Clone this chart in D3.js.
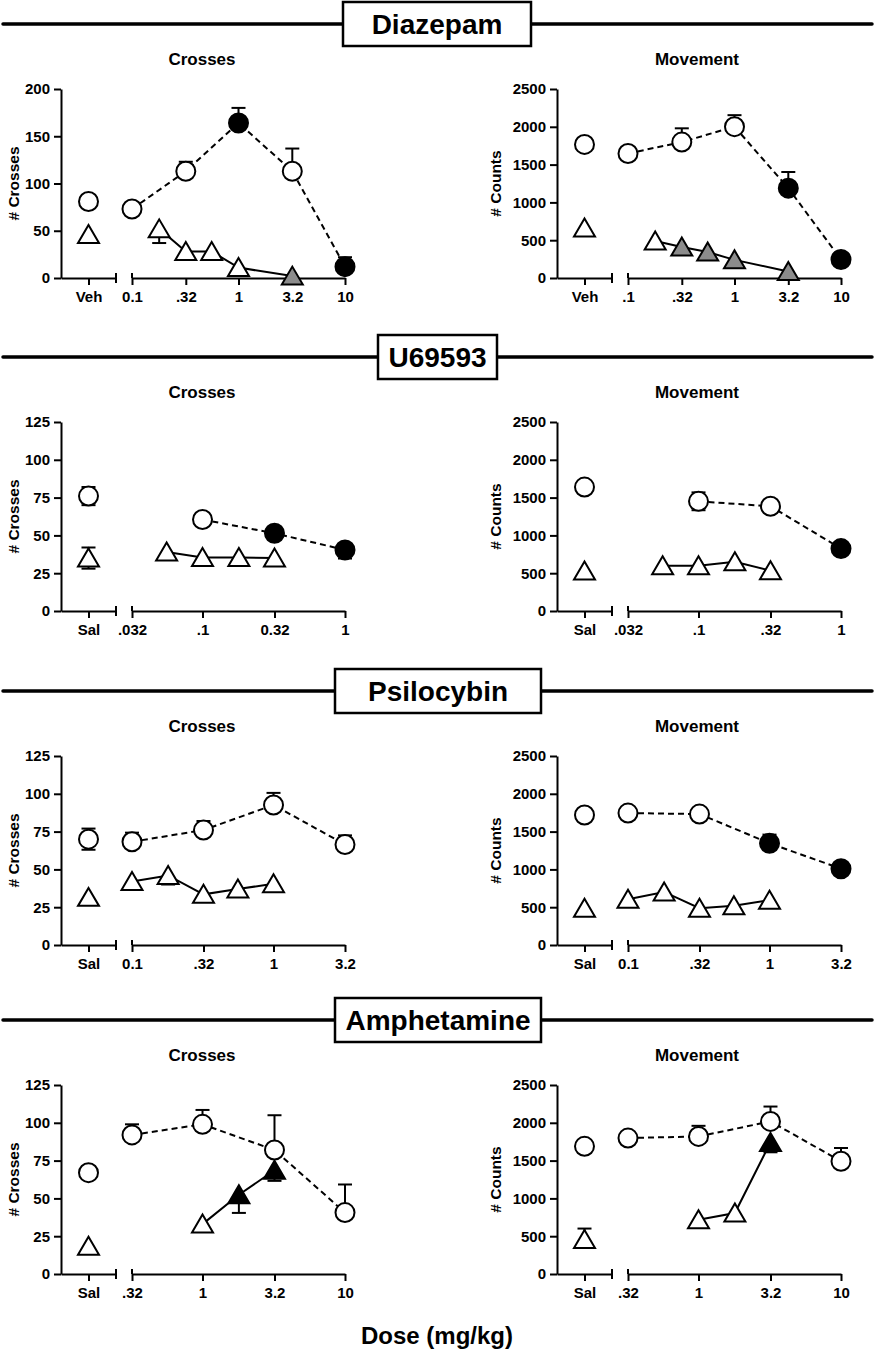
<!DOCTYPE html>
<html>
<head>
<meta charset="utf-8">
<script src="https://cdn.jsdelivr.net/npm/d3@7"></script>
<style>
  body { margin: 0; background: #fff; }
  svg { display: block; }
</style>
</head>
<body>
<div id="chart"></div>
<script>
// Figure-wide labels
const drugs = ['Diazepam', 'U69593', 'Psilocybin', 'Amphetamine'];
const controlLabels = ['Veh', 'Sal', 'Sal', 'Sal'];
const doseDomains = [[0.1, 10], [0.032, 1], [0.1, 3.2], [0.32, 10]];
const doseTicks = [[0.1, 0.32, 1, 3.2, 10], [0.032, 0.1, 0.32, 1], [0.1, 0.32, 1, 3.2], [0.32, 1, 3.2, 10]];
const crossTickLabels = [['0.1', '.32', '1', '3.2', '10'], ['.032', '.1', '0.32', '1'], ['0.1', '.32', '1', '3.2'], ['.32', '1', '3.2', '10']];
const countTickLabels = [['.1', '.32', '1', '3.2', '10'], ['.032', '.1', '.32', '1'], ['0.1', '.32', '1', '3.2'], ['.32', '1', '3.2', '10']];
const crossMax = [200, 125, 125, 125];
const crossStep = [50, 25, 25, 25];
const countMax = 2500;
const countStep = 500;

// control points: [circle, triangle] as [mean, +err, -err]
// dose points: [dose, mean, +err, -err, fill]  fill: o = open, f = black, g = gray

// Diazepam
const dzpCrossCtrl = [[81, 0, 0], [46, 0, 0]];
const dzpCrossCirc = [[0.1, 73, 0, 0, 'o'], [0.32, 113, 10, 0, 'o'], [1, 164, 16, 0, 'f'], [3.2, 113, 24, 0, 'o'], [10, 12, 10, 0, 'f']];
const dzpCrossTri = [[0.18, 52, 0, 15, 'o'], [0.32, 28, 0, 0, 'o'], [0.56, 28, 0, 0, 'o'], [1, 11, 0, 0, 'o'], [3.2, 2, 0, 0, 'g']];
const dzpCountCtrl = [[1767, 0, 0], [660, 0, 0]];
const dzpCountCirc = [[0.1, 1647, 0, 0, 'o'], [0.32, 1798, 182, 0, 'o'], [1, 2002, 152, 0, 'o'], [3.2, 1188, 214, 0, 'f'], [10, 245, 0, 0, 'f']];
const dzpCountTri = [[0.18, 490, 0, 0, 'o'], [0.32, 409, 0, 0, 'g'], [0.56, 343, 0, 0, 'g'], [1, 240, 0, 0, 'g'], [3.2, 85, 0, 0, 'g']];

// U69593
const u69CrossCtrl = [[76, 6, 6], [35, 7, 7]];
const u69CrossCirc = [[0.1, 60.5, 0, 0, 'o'], [0.32, 51.4, 0, 0, 'f'], [1, 40.4, 0, 5.7, 'f']];
const u69CrossTri = [[0.056, 39, 0, 0, 'o'], [0.1, 35.4, 0, 0, 'o'], [0.18, 35.4, 0, 0, 'o'], [0.32, 35, 0, 0, 'o']];
const u69CountCtrl = [[1639, 0, 0], [529, 0, 0]];
const u69CountCirc = [[0.1, 1451, 118, 118, 'o'], [0.32, 1385, 0, 0, 'o'], [1, 826, 0, 0, 'f']];
const u69CountTri = [[0.056, 599, 0, 0, 'o'], [0.1, 599, 0, 0, 'o'], [0.18, 651, 0, 0, 'o'], [0.32, 533, 0, 0, 'o']];

// Psilocybin
const psiCrossCtrl = [[70, 7, 7], [31.5, 0, 0]];
const psiCrossCirc = [[0.1, 68.3, 6, 0, 'o'], [0.32, 76, 6, 0, 'o'], [1, 92.6, 8, 0, 'o'], [3.2, 66.5, 6, 0, 'o']];
const psiCrossTri = [[0.1, 42, 0, 5, 'o'], [0.18, 46, 0, 6, 'o'], [0.32, 33.5, 0, 0, 'o'], [0.56, 37, 0, 0, 'o'], [1, 40.5, 0, 0, 'o']];
const psiCountCtrl = [[1719, 0, 0], [487, 0, 0]];
const psiCountCirc = [[0.1, 1745, 0, 0, 'o'], [0.32, 1732, 0, 0, 'o'], [1, 1346, 114, 0, 'f'], [3.2, 1009, 0, 0, 'f']];
const psiCountTri = [[0.1, 605, 0, 0, 'o'], [0.18, 702, 0, 0, 'o'], [0.32, 487, 0, 0, 'o'], [0.56, 518, 0, 0, 'o'], [1, 592, 0, 0, 'o']];

// Amphetamine
const ampCrossCtrl = [[67, 0, 0], [18.4, 0, 0]];
const ampCrossCirc = [[0.32, 92, 7, 0, 'o'], [1, 99, 9.5, 0, 'o'], [3.2, 82, 23, 0, 'o'], [10, 40.6, 18.6, 0, 'o']];
const ampCrossTri = [[1, 33, 0, 0, 'o'], [1.8, 52.4, 0, 12, 'f'], [3.2, 68.6, 0, 7, 'f']];
const ampCountCtrl = [[1689, 0, 0], [456, 145, 0]];
const ampCountCirc = [[0.32, 1798, 0, 0, 'o'], [1, 1820, 140, 0, 'o'], [3.2, 2018, 197, 0, 'o'], [10, 1491, 176, 0, 'o']];
const ampCountTri = [[1, 719, 0, 0, 'o'], [1.8, 807, 0, 0, 'o'], [3.2, 1741, 0, 131, 'f']];

const crossSets = [
  [dzpCrossCtrl, dzpCrossCirc, dzpCrossTri],
  [u69CrossCtrl, u69CrossCirc, u69CrossTri],
  [psiCrossCtrl, psiCrossCirc, psiCrossTri],
  [ampCrossCtrl, ampCrossCirc, ampCrossTri]
];
const countSets = [
  [dzpCountCtrl, dzpCountCirc, dzpCountTri],
  [u69CountCtrl, u69CountCirc, u69CountTri],
  [psiCountCtrl, psiCountCirc, psiCountTri],
  [ampCountCtrl, ampCountCirc, ampCountTri]
];

// Layout
const W = 875, H = 1351;
const FONT = "'Liberation Sans', Arial, Helvetica, sans-serif";
const rowTops = [89, 422, 756, 1085];
const plotH = 189;
const panelX = [61, 557];
const headerBoxes = [[343, 531], [378, 497], [335, 541], [335, 541]];
const fills = { o: '#fff', f: '#000', g: '#8c8c8c' };

const svg = d3.select('#chart')
  .append('svg')
  .attr('width', W)
  .attr('height', H)
  .style('font-family', FONT)
  .style('font-weight', 'bold');

const triPath = 'M-10.5,8.5L10.5,8.5L0,-9.5Z';

function toPts(arr) {
  return arr.map(([dose, mean, hi, lo, fill]) => ({ dose, mean, hi, lo, fill }));
}

function styleAxis(g) {
  g.attr('font-family', FONT).attr('font-size', 15).attr('font-weight', 'bold');
  g.selectAll('.domain, .tick line').attr('stroke', '#000').attr('stroke-width', 2);
  g.selectAll('text').attr('fill', '#000');
}

function drawPanel(row, col) {
  const x0 = panelX[col];
  const top = rowTops[row];
  const zero = top + plotH;
  const isCount = col === 1;
  const max = isCount ? countMax : crossMax[row];
  const step = isCount ? countStep : crossStep[row];
  const [ctrl, circ, tri] = isCount ? countSets[row] : crossSets[row];
  const labels = isCount ? countTickLabels[row] : crossTickLabels[row];

  const g = svg.append('g');

  const y = d3.scaleLinear().domain([0, max]).range([zero, top]);
  const xc = d3.scaleLinear().domain([0, 1]).range([x0, x0 + 55]);
  const xd = d3.scaleLog().domain(doseDomains[row]).range([x0 + 71, x0 + 284]);

  // Title
  g.append('text')
    .attr('x', isCount ? 697 : 202)
    .attr('y', top - 24)
    .attr('text-anchor', 'middle')
    .attr('font-size', 17)
    .text(isCount ? 'Movement' : 'Crosses');

  // Y axis
  g.append('g')
    .attr('transform', `translate(${x0},0)`)
    .call(d3.axisLeft(y).tickValues(d3.range(0, max + 1, step)).tickFormat(d3.format('d'))
      .tickSize(7).tickSizeOuter(0).tickPadding(4))
    .call(styleAxis);

  g.append('text')
    .attr('transform', `translate(${x0 - (isCount ? 61 : 47)},${(top + zero) / 2}) rotate(-90)`)
    .attr('text-anchor', 'middle')
    .attr('dy', '0.35em')
    .attr('font-size', 15.5)
    .text(isCount ? '# Counts' : '# Crosses');

  // X axis: control segment
  g.append('g')
    .attr('transform', `translate(0,${zero})`)
    .call(d3.axisBottom(xc).tickValues([0.5]).tickFormat(() => controlLabels[row]).tickSize(7).tickSizeOuter(0).tickPadding(6))
    .call(styleAxis);

  // X axis: dose segment
  g.append('g')
    .attr('transform', `translate(0,${zero})`)
    .call(d3.axisBottom(xd).tickValues(doseTicks[row]).tickFormat((d, i) => labels[i]).tickSize(7).tickSizeOuter(0).tickPadding(6))
    .call(styleAxis);

  // break caps
  g.append('line')
    .attr('x1', xc(1)).attr('x2', xc(1))
    .attr('y1', zero - 5).attr('y2', zero + 5)
    .attr('stroke', '#000').attr('stroke-width', 2);
  g.append('line')
    .attr('x1', xd.range()[0]).attr('x2', xd.range()[0])
    .attr('y1', zero - 5).attr('y2', zero)
    .attr('stroke', '#000').attr('stroke-width', 2);

  const circPts = toPts(circ);
  const triPts = toPts(tri);
  const ctrlCirc = { x: xc(0.5), mean: ctrl[0][0], hi: ctrl[0][1], lo: ctrl[0][2], fill: 'o' };
  const ctrlTri = { x: xc(0.5), mean: ctrl[1][0], hi: ctrl[1][1], lo: ctrl[1][2], fill: 'o' };
  circPts.forEach(p => { p.x = xd(p.dose); });
  triPts.forEach(p => { p.x = xd(p.dose); });

  const line = d3.line().x(d => d.x).y(d => y(d.mean));

  // Connecting lines
  g.append('path')
    .datum(circPts)
    .attr('d', line)
    .attr('fill', 'none')
    .attr('stroke', '#000')
    .attr('stroke-width', 2)
    .attr('stroke-dasharray', '6,4');

  g.append('path')
    .datum(triPts)
    .attr('d', line)
    .attr('fill', 'none')
    .attr('stroke', '#000')
    .attr('stroke-width', 2);

  // Error bars
  const all = [ctrlCirc, ctrlTri, ...circPts, ...triPts];
  const eg = g.append('g').attr('stroke', '#000').attr('stroke-width', 2);
  all.forEach(p => {
    [[p.hi, 1], [p.lo, -1]].forEach(([e, s]) => {
      if (!e) return;
      const ye = y(p.mean + s * e);
      eg.append('line').attr('x1', p.x).attr('x2', p.x).attr('y1', y(p.mean)).attr('y2', ye);
      eg.append('line').attr('x1', p.x - 7).attr('x2', p.x + 7).attr('y1', ye).attr('y2', ye);
    });
  });

  // Markers
  g.selectAll('.circ')
    .data([ctrlCirc, ...circPts])
    .join('circle')
    .attr('class', 'circ')
    .attr('cx', d => d.x)
    .attr('cy', d => y(d.mean))
    .attr('r', 9.5)
    .attr('fill', d => fills[d.fill])
    .attr('stroke', '#000')
    .attr('stroke-width', 2);

  g.selectAll('.tri')
    .data([ctrlTri, ...triPts])
    .join('path')
    .attr('class', 'tri')
    .attr('d', triPath)
    .attr('transform', d => `translate(${d.x},${y(d.mean)})`)
    .attr('fill', d => fills[d.fill])
    .attr('stroke', '#000')
    .attr('stroke-width', 2);
}

// Section headers
drugs.forEach((name, row) => {
  const ly = rowTops[row] - 65;
  const [bx0, bx1] = headerBoxes[row];
  svg.append('line')
    .attr('x1', 3).attr('x2', W - 3)
    .attr('y1', ly).attr('y2', ly)
    .attr('stroke', '#000')
    .attr('stroke-width', 3.5)
    .attr('stroke-linecap', 'round');
  svg.append('rect')
    .attr('x', bx0).attr('y', ly - 22)
    .attr('width', bx1 - bx0).attr('height', 44)
    .attr('fill', '#fff')
    .attr('stroke', '#000')
    .attr('stroke-width', 2.5);
  svg.append('text')
    .attr('x', (bx0 + bx1) / 2)
    .attr('y', ly + 10)
    .attr('text-anchor', 'middle')
    .attr('font-size', 28)
    .text(name);

  drawPanel(row, 0);
  drawPanel(row, 1);
});

// Shared x label
svg.append('text')
  .attr('x', 437)
  .attr('y', 1344)
  .attr('text-anchor', 'middle')
  .attr('font-size', 24)
  .text('Dose (mg/kg)');
</script>
</body>
</html>
